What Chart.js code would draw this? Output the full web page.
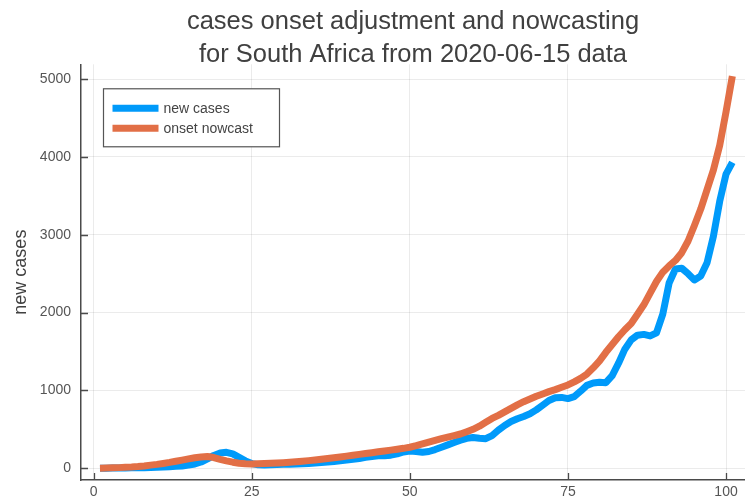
<!DOCTYPE html>
<html><head><meta charset="utf-8">
<script src="https://cdn.jsdelivr.net/npm/chart.js@4.4.0/dist/chart.umd.min.js"></script>
<style>html,body{margin:0;padding:0;background:#fff}#wrap{width:745px;height:500px}</style>
</head><body><div id="wrap"><canvas id="c" width="745" height="500"></canvas></div>
<script>
const days = [1,2,3,4,5,6,7,8,9,10,11,12,13,14,15,16,17,18,19,20,21,22,23,24,25,26,27,28,29,30,31,32,33,34,35,36,37,38,39,40,41,42,43,44,45,46,47,48,49,50,51,52,53,54,55,56,57,58,59,60,61,62,63,64,65,66,67,68,69,70,71,72,73,74,75,76,77,78,79,80,81,82,83,84,85,86,87,88,89,90,91,92,93,94,95,96,97,98,99,100,101];
const newCases = [0,0,2,3,4,5,6,8,10,12,
  16,20,25,30,40,55,80,120,165,195,
  205,185,140,95,60,45,42,45,48,50,
  52,55,58,62,68,74,80,88,96,105,
  115,125,140,152,160,162,168,185,210,220,
  215,205,215,240,270,300,330,360,385,395,
  385,380,420,490,550,600,635,665,700,750,
  810,870,905,910,895,920,990,1065,1095,1105,
  1100,1190,1350,1530,1650,1710,1720,1700,1740,1980,
  2380,2560,2570,2500,2420,2470,2640,2980,3430,3780,3930];
const onsetNowcast = [0,2,5,8,12,16,22,30,40,50,
  62,75,90,105,120,135,145,150,138,115,
  95,78,65,58,55,57,60,63,67,72,
  77,83,90,98,106,115,124,134,145,156,
  167,178,189,200,211,222,233,244,256,270,
  290,312,335,358,380,400,420,440,470,500,
  540,590,640,680,725,770,815,855,890,925,
  955,985,1010,1040,1070,1110,1155,1210,1290,1380,
  1490,1590,1690,1780,1860,1980,2100,2250,2400,2520,
  2600,2670,2770,2920,3120,3330,3580,3830,4150,4580,5040];
const xTicks = [0,25,50,75,100];
const yTicks = [0,1000,2000,3000,4000,5000];
const seriesLabels = ['new cases','onset nowcast'];
const seriesColors = ['#009AFA','#E26F46'];
const titleLines = ['cases onset adjustment and nowcasting','for South Africa from 2020-06-15 data'];
const yTitle = 'new cases';

const FONT = "'Liberation Sans', Arial, Helvetica, sans-serif";
const AXIS = '#4a4a4a';

const innerTicks = {
  id: 'innerTicks',
  afterDatasetsDraw(chart) {
    const ctx = chart.ctx, ca = chart.chartArea;
    const xs = chart.scales.x, ys = chart.scales.y;
    ctx.save();
    ctx.strokeStyle = AXIS; ctx.lineWidth = 1.3;
    ctx.beginPath();
    xTicks.forEach(v => { const p = Math.round(xs.getPixelForValue(v)) + 0.5; ctx.moveTo(p, ca.bottom); ctx.lineTo(p, ca.bottom - 7); });
    yTicks.forEach(v => { const p = Math.round(ys.getPixelForValue(v)) + 0.5; ctx.moveTo(ca.left, p); ctx.lineTo(ca.left + 7, p); });
    ctx.stroke();
    ctx.restore();
  }
};

const floatLegend = {
  id: 'floatLegend',
  afterDraw(chart) {
    const ctx = chart.ctx, ca = chart.chartArea;
    const bx = ca.left + 22.5, by = ca.top + 24.5, bw = 176, bh = 58;
    ctx.save();
    ctx.fillStyle = '#fff';
    ctx.fillRect(bx, by, bw, bh);
    ctx.strokeStyle = '#555'; ctx.lineWidth = 1.2;
    ctx.strokeRect(bx, by, bw, bh);
    ctx.font = '14px ' + FONT;
    ctx.textBaseline = 'middle';
    chart.data.datasets.forEach((ds, i) => {
      const y = by + 19.5 + i * 20;
      ctx.strokeStyle = ds.borderColor; ctx.lineWidth = 7; ctx.lineCap = 'butt';
      ctx.beginPath(); ctx.moveTo(bx + 9, y); ctx.lineTo(bx + 55, y); ctx.stroke();
      ctx.fillStyle = '#444';
      ctx.fillText(ds.label, bx + 60, y + 0.5);
    });
    ctx.restore();
  }
};

new Chart(document.getElementById('c'), {
  type: 'line',
  data: {
    datasets: [
      { label: seriesLabels[0], data: days.map((d, i) => ({ x: d, y: newCases[i] })), borderColor: seriesColors[0], borderWidth: 7, pointRadius: 0, tension: 0, fill: false, borderJoinStyle: 'round', order: 2 },
      { label: seriesLabels[1], data: days.map((d, i) => ({ x: d, y: onsetNowcast[i] })), borderColor: seriesColors[1], borderWidth: 7, pointRadius: 0, tension: 0, fill: false, borderJoinStyle: 'round', order: 1 }
    ]
  },
  options: {
    responsive: false, animation: false, devicePixelRatio: 1,
    layout: { padding: 0 },
    plugins: {
      legend: { display: false },
      tooltip: { enabled: false },
      title: {
        display: true, text: titleLines, fullSize: false, color: '#404040',
        font: { family: FONT, size: 25.5, weight: 'normal', lineHeight: 1.28 },
        padding: { top: 6, bottom: -7 }
      }
    },
    scales: {
      x: {
        type: 'linear', min: -2, max: 103,
        afterBuildTicks: s => { s.ticks = xTicks.map(v => ({ value: v })); },
        afterFit: s => { s.height = 20; },
        grid: { color: 'rgba(0,0,0,0.08)', lineWidth: 1, drawTicks: false },
        border: { display: true, color: AXIS, width: 1.5 },
        ticks: { color: '#555', font: { family: FONT, size: 14 }, padding: 4, maxRotation: 0, callback: v => String(v) }
      },
      y: {
        type: 'linear', min: -151, max: 5191,
        afterBuildTicks: s => { s.ticks = yTicks.map(v => ({ value: v })); },
        afterFit: s => { s.width = 81; },
        grid: { color: 'rgba(0,0,0,0.08)', lineWidth: 1, drawTicks: false },
        border: { display: true, color: AXIS, width: 1.5 },
        ticks: { color: '#555', font: { family: FONT, size: 14 }, padding: 10, callback: v => String(v) },
        title: { display: true, text: yTitle, color: '#404040', font: { family: FONT, size: 18, weight: 'normal' }, padding: { top: 10, bottom: 0 } }
      }
    }
  },
  plugins: [innerTicks, floatLegend]
});
</script>
</body></html>
